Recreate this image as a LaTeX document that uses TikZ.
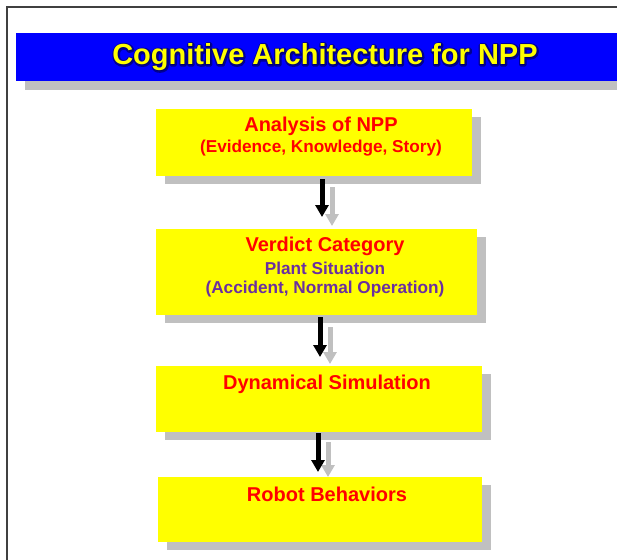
\documentclass[tikz,border=0pt]{standalone}
\usepackage{fontspec}
\setmainfont{Liberation Sans}
\usetikzlibrary{arrows.meta,shadows}
\definecolor{titleblue}{RGB}{0,0,255}
\definecolor{titleyellow}{RGB}{255,255,0}
\definecolor{boxyellow}{RGB}{255,255,0}
\definecolor{shadowgray}{RGB}{192,192,192}
\definecolor{txtred}{RGB}{255,0,0}
\definecolor{txtpurple}{RGB}{106,47,160}
\definecolor{halo}{RGB}{0,0,90}
\newcommand{\halostroke}[1]{\special{pdf:literal direct 2 Tr 3.5 w 1 J 1 j 0 0 0.3 RG}#1\special{pdf:literal direct 0 Tr}}
\tikzset{
  box/.style={fill=boxyellow, draw=none, inner sep=0pt, outer sep=0pt,
    drop shadow={shadow xshift=8.5pt, shadow yshift=-8pt, fill=shadowgray, opacity=1}},
  maintxt/.style={text=txtred, font=\bfseries\fontsize{20}{22}\selectfont, inner sep=0pt},
  subtxt/.style={text=txtred, font=\bfseries\fontsize{17.2}{19}\selectfont, inner sep=0pt},
  purtxt/.style={text=txtpurple, font=\bfseries\fontsize{17.2}{19}\selectfont, inner sep=0pt},
  blackarrow/.style={draw=black, line width=5pt, -{Triangle[width=13pt,length=12pt]}},
  grayarrow/.style={draw=shadowgray, line width=5pt, -{Triangle[width=13pt,length=12pt]}},
  titletxt/.style={font=\bfseries\fontsize{29}{32}\selectfont, inner sep=0pt},
}
\begin{document}
\begin{tikzpicture}[x=1pt,y=-1pt]
\useasboundingbox (0,0) rectangle (617,559);
\fill[white] (0,0) rectangle (617,559);
% frame
\draw[line width=1.5pt, black!75] (7,560) -- (7,7) -- (618,7);
% title bar with shadow
\fill[shadowgray] (25,42) rectangle (618,90.5);
\node[fill=titleblue, draw=none, inner sep=0pt, outer sep=0pt, minimum width=602pt, minimum height=48pt, anchor=north west] (titlebar) at (16,33) {};
\node[titletxt, text=halo, opacity=0.6] (titleglow) at (325.5,57.5) {\halostroke{Cognitive Architecture for NPP}};
\node[titletxt, text=titleyellow] (title) at (325,57) {Cognitive Architecture for NPP};

% arrow x positions
\coordinate (ax1) at (322,0);
\coordinate (gx1) at (332,0);
\coordinate (ax2) at (320,0);
\coordinate (gx2) at (330,0);
\coordinate (ax3) at (318,0);
\coordinate (gx3) at (328,0);

% boxes
\node[box, minimum width=316pt, minimum height=67pt] (b1) at (314,142.5) {};
\node[box, minimum width=321pt, minimum height=86pt] (b2) at (316.5,272) {};
\node[box, minimum width=326pt, minimum height=66pt] (b3) at (319,399) {};
\node[box, minimum width=324pt, minimum height=65pt] (b4) at (320,509.5) {};

% arrows
\draw[grayarrow, shorten <=11pt, shorten >=3pt] (b1.south -| gx1) -- (b2.north -| gx1);
\draw[blackarrow, shorten <=3pt, shorten >=12pt] (b1.south -| ax1) -- (b2.north -| ax1);
\draw[grayarrow, shorten <=12pt, shorten >=2pt] (b2.south -| gx2) -- (b3.north -| gx2);
\draw[blackarrow, shorten <=2pt, shorten >=9pt] (b2.south -| ax2) -- (b3.north -| ax2);
\draw[grayarrow, shorten <=10pt, shorten >=0pt] (b3.south -| gx3) -- (b4.north -| gx3);
\draw[blackarrow, shorten <=1pt, shorten >=5pt] (b3.south -| ax3) -- (b4.north -| ax3);

% texts
\node[maintxt] (t1a) at (321,126) {Analysis of NPP};
\node[subtxt] (t1b) at (321,148) {(Evidence, Knowledge, Story)};
\node[maintxt] (t2a) at (325,246) {Verdict Category};
\node[purtxt] (t2b) at (325,268) {Plant Situation};
\node[purtxt] (t2c) at (325,289) {(Accident, Normal Operation)};
\node[maintxt] (t3) at (327,384) {Dynamical Simulation};
\node[maintxt] (t4) at (327,494) {Robot Behaviors};
\end{tikzpicture}
\end{document}
